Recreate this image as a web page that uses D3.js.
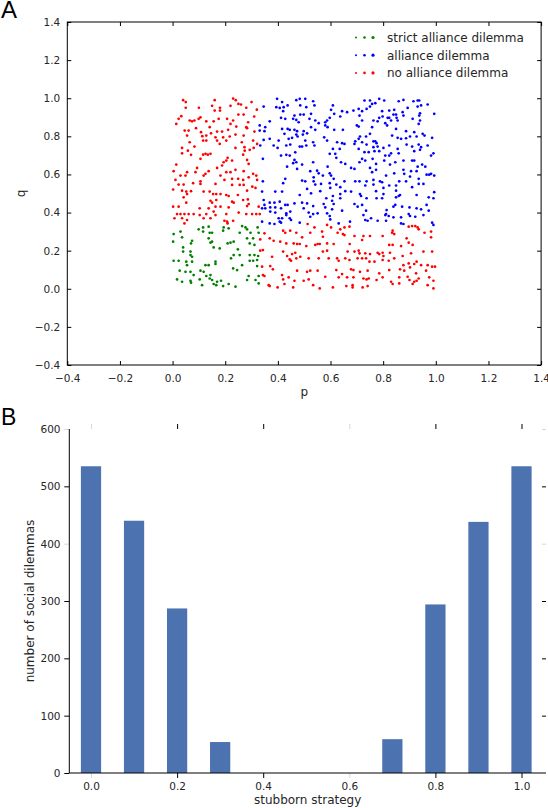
<!DOCTYPE html>
<html>
<head>
<meta charset="utf-8">
<script src="https://cdn.jsdelivr.net/npm/d3@7"></script>
<style>
  body { margin: 0; background: #fff; }
  svg text { font-family: "DejaVu Sans", sans-serif; }
</style>
</head>
<body>
<div id="chart"></div>
<script>
const strictAlliance = [
  [0.116,0.322],[0.099,0.312],[0.137,0.326],[0.194,0.322],[0.213,0.317],[0.264,0.329],[0.277,0.322],[0.283,0.312],[0.323,0.322],
  [0.03,0.3],[0.004,0.287],[0.116,0.3],[0.141,0.294],[0.15,0.294],[0.192,0.305],[0.255,0.294],[0.296,0.294],[0.327,0.294],
  [0.036,0.27],[0.074,0.252],[0.137,0.265],[0.15,0.247],[0.144,0.242],[0.22,0.242],[0.232,0.247],[0.209,0.238],[0.283,0.265],
  [0.306,0.265],[0.311,0.23],[0.293,0.238],[0.002,0.247],[0.07,0.238],[0.156,0.217],[0.179,0.212],[0.04,0.217],[0.04,0.195],
  [0.068,0.195],[0.248,0.207],[0.068,0.177],[0.074,0.168],[0.232,0.177],[0.255,0.177],[0.293,0.177],[0.311,0.177],
  [0.004,0.147],[0.023,0.147],[0.052,0.142],[0.074,0.142],[0.163,0.142],[0.222,0.16],[0.293,0.147],[0.306,0.147],[0.321,0.151],
  [0.055,0.124],[0.125,0.124],[0.137,0.124],[0.163,0.13],[0.23,0.107],[0.264,0.124],[0.321,0.119],
  [0.027,0.095],[0.049,0.089],[0.068,0.089],[0.106,0.095],[0.118,0.089],[0.245,0.098],
  [0.08,0.072],[0.128,0.067],[0.144,0.072],[0.289,0.067],[0.327,0.067],
  [0.017,0.049],[0.036,0.037],[0.068,0.042],[0.07,0.032],[0.103,0.049],[0.141,0.054],[0.15,0.046],[0.169,0.037],[0.184,0.042],
  [0.283,0.046],[0.315,0.046],[0.112,0.019],[0.156,0.025],[0.166,0.019],[0.192,0.014],[0.213,0.025],[0.239,0.011],[0.327,0.028],
  [0.325,0.172]
];

const alliance = [
  [0.397,0.997],[0.416,0.98],[0.47,0.99],[0.483,0.997],[0.504,0.997],[0.534,0.984],[0.539,0.962],[0.609,0.962],[0.346,0.956],
  [0.394,0.953],[0.407,0.949],[0.422,0.953],[0.437,0.962],[0.485,0.962],[0.508,0.953],[0.602,0.939],[0.644,0.932],[0.663,0.927],
  [0.42,0.932],[0.498,0.914],[0.526,0.918],[0.463,0.909],[0.485,0.914],[0.597,0.897],[0.587,0.883],[0.637,0.904],[0.614,0.918],
  [0.369,0.879],[0.412,0.897],[0.428,0.892],[0.458,0.892],[0.47,0.886],[0.479,0.874],[0.52,0.892],[0.542,0.883],[0.555,0.869],
  [0.58,0.874],[0.331,0.857],[0.352,0.848],[0.416,0.839],[0.437,0.839],[0.445,0.834],[0.463,0.834],[0.473,0.827],[0.498,0.827],
  [0.526,0.848],[0.58,0.857],[0.589,0.848],[0.614,0.834],[0.331,0.83],[0.349,0.827],[0.425,0.813],[0.47,0.809],[0.475,0.799],
  [0.495,0.809],[0.511,0.816],[0.542,0.834],[0.647,0.834],[0.346,0.781],[0.369,0.787],[0.403,0.778],[0.441,0.787],[0.454,0.792],
  [0.504,0.778],[0.534,0.769],[0.576,0.795],[0.587,0.778],[0.625,0.769],[0.644,0.764],[0.653,0.76],[0.333,0.752],[0.384,0.752],
  [0.399,0.739],[0.432,0.752],[0.447,0.757],[0.483,0.746],[0.492,0.746],[0.508,0.752],[0.539,0.752],[0.609,0.734],[0.412,0.699],
  [0.432,0.703],[0.445,0.699],[0.466,0.716],[0.597,0.708],[0.618,0.708],[0.635,0.734],[0.343,0.682],[0.622,0.687],[0.463,0.676],
  [0.458,0.659],[0.47,0.664],[0.435,0.641],[0.492,0.652],[0.534,0.664],[0.589,0.641],[0.656,0.655],[0.64,0.664],[0.473,0.629],
  [0.523,0.617],[0.549,0.62],[0.555,0.606],[0.597,0.606],[0.602,0.594],[0.571,0.594],[0.536,0.585],[0.504,0.564],[0.536,0.564],
  [0.343,0.564],[0.42,0.554],[0.428,0.577],[0.492,0.568],[0.612,0.577],[0.653,0.564],[0.542,0.547],[0.564,0.55],[0.597,0.554],
  [0.622,0.547],[0.637,0.533],[0.511,0.524],[0.561,0.512],[0.599,0.529],[0.656,0.512],
  [0.785,0.997],[0.729,0.988],[0.75,0.988],[0.804,0.988],[0.859,0.984],[0.877,0.991],[0.915,0.984],[0.931,0.988],[0.937,0.988],
  [0.77,0.974],[0.758,0.97],[0.969,0.967],[0.75,0.956],[0.931,0.956],[0.944,0.962],[0.687,0.935],[0.707,0.944],[0.72,0.932],
  [0.737,0.944],[0.796,0.932],[0.823,0.935],[0.842,0.939],[0.874,0.927],[0.893,0.949],[0.994,0.918],[0.877,0.909],[0.94,0.921],
  [0.937,0.909],[0.71,0.909],[0.785,0.897],[0.798,0.904],[0.817,0.897],[0.839,0.914],[0.849,0.914],[0.851,0.897],[0.808,0.869],
  [0.83,0.883],[0.855,0.883],[0.912,0.892],[0.94,0.883],[0.935,0.865],[0.72,0.883],[0.763,0.883],[0.779,0.879],[0.823,0.897],
  [0.7,0.857],[0.707,0.851],[0.758,0.848],[0.815,0.857],[0.849,0.839],[0.887,0.827],[0.902,0.799],[0.918,0.822],[0.95,0.813],
  [0.957,0.804],[0.986,0.792],[0.712,0.799],[0.707,0.787],[0.735,0.799],[0.75,0.813],[0.834,0.804],[0.855,0.792],[0.868,0.787],
  [0.887,0.79],[0.927,0.799],[0.694,0.774],[0.691,0.76],[0.72,0.769],[0.737,0.757],[0.763,0.774],[0.77,0.774],[0.775,0.764],
  [0.763,0.743],[0.779,0.746],[0.801,0.739],[0.823,0.752],[0.855,0.734],[0.889,0.757],[0.91,0.746],[0.935,0.757],[0.944,0.743],
  [0.969,0.752],[0.707,0.734],[0.729,0.717],[0.745,0.717],[0.767,0.722],[0.785,0.722],[0.83,0.711],[0.859,0.711],[0.918,0.722],
  [0.94,0.729],[0.982,0.699],[0.991,0.711],[0.808,0.699],[0.823,0.699],[0.72,0.682],[0.732,0.673],[0.71,0.664],[0.76,0.682],
  [0.804,0.673],[0.846,0.664],[0.877,0.673],[0.91,0.673],[0.918,0.673],[0.96,0.641],[0.948,0.652],[0.773,0.655],[0.826,0.652],
  [0.931,0.641],[0.678,0.634],[0.691,0.629],[0.75,0.634],[0.773,0.624],[0.758,0.612],[0.877,0.624],[0.906,0.617],[0.927,0.617],
  [0.965,0.599],[0.975,0.599],[0.982,0.603],[0.994,0.594],[0.811,0.594],[0.842,0.606],[0.88,0.603],[0.902,0.589],[0.694,0.564],
  [0.71,0.564],[0.737,0.564],[0.763,0.571],[0.788,0.564],[0.796,0.559],[0.861,0.564],[0.887,0.564],[0.935,0.577],[0.953,0.55],
  [0.732,0.542],[0.763,0.547],[0.823,0.542],[0.849,0.542],[0.91,0.533],[0.801,0.529],[0.935,0.55],[0.773,0.512],[0.849,0.515],
  [0.994,0.507],
  [0.34,0.51],[0.39,0.51],[0.416,0.51],[0.483,0.492],[0.526,0.501],[0.584,0.475],[0.609,0.487],[0.637,0.497],[0.637,0.475],
  [0.346,0.466],[0.369,0.452],[0.387,0.452],[0.407,0.457],[0.428,0.44],[0.437,0.44],[0.463,0.448],[0.492,0.452],[0.511,0.448],
  [0.534,0.434],[0.574,0.445],[0.606,0.462],[0.612,0.445],[0.349,0.44],[0.34,0.422],[0.352,0.422],[0.371,0.427],[0.39,0.427],
  [0.412,0.422],[0.498,0.422],[0.58,0.427],[0.606,0.417],[0.644,0.41],[0.371,0.405],[0.39,0.4],[0.432,0.396],[0.447,0.405],
  [0.517,0.4],[0.534,0.392],[0.551,0.396],[0.587,0.396],[0.403,0.37],[0.416,0.37],[0.407,0.352],[0.432,0.387],[0.445,0.37],
  [0.45,0.361],[0.523,0.378],[0.597,0.382],[0.599,0.364],[0.34,0.352],[0.369,0.343],[0.387,0.34],[0.412,0.347],[0.483,0.347],
  [0.631,0.343],
  [0.678,0.51],[0.712,0.497],[0.716,0.487],[0.737,0.475],[0.775,0.475],[0.796,0.475],[0.801,0.497],[0.849,0.48],[0.859,0.487],
  [0.864,0.492],[0.927,0.492],[0.973,0.48],[0.991,0.475],[0.691,0.445],[0.703,0.431],[0.72,0.44],[0.735,0.41],[0.725,0.387],
  [0.754,0.37],[0.741,0.357],[0.732,0.361],[0.779,0.357],[0.811,0.357],[0.839,0.431],[0.846,0.44],[0.872,0.431],[0.9,0.427],
  [0.927,0.422],[0.944,0.417],[0.965,0.44],[0.973,0.41],[0.813,0.413],[0.811,0.392],[0.821,0.382],[0.808,0.387],[0.839,0.375],
  [0.868,0.375],[0.902,0.382],[0.897,0.392],[0.922,0.378],[0.953,0.387],[0.674,0.352],[0.868,0.343],[0.877,0.34],[0.986,0.347],
  [0.991,0.335]
];

const noAlliance = [
  [0.04,0.99],[0.05,0.98],[0.16,0.99],[0.23,0.998],[0.24,0.99],[0.25,0.97],[0.26,0.967],[0.30,0.98],[0.05,0.95],[0.10,0.95],
  [0.15,0.96],[0.18,0.95],[0.22,0.96],[0.28,0.95],[0.32,0.94],[0.16,0.935],[0.18,0.935],[0.25,0.914],[0.27,0.914],[0.31,0.904],
  [0.033,0.906],[0.023,0.892],[0.014,0.865],[0.065,0.883],[0.074,0.879],[0.083,0.883],[0.099,0.892],[0.106,0.9],[0.128,0.879],
  [0.175,0.892],[0.156,0.879],[0.207,0.892],[0.22,0.865],[0.23,0.883],[0.287,0.874],[0.28,0.848],[0.242,0.851],[0.283,0.843],
  [0.046,0.83],[0.061,0.83],[0.089,0.843],[0.108,0.822],[0.141,0.848],[0.146,0.816],[0.169,0.825],[0.188,0.825],[0.211,0.834],
  [0.239,0.809],[0.27,0.804],[0.311,0.825],[0.113,0.801],[0.128,0.804],[0.055,0.804],[0.163,0.795],[0.192,0.795],[0.217,0.799],
  [0.065,0.769],[0.116,0.778],[0.128,0.778],[0.169,0.778],[0.204,0.778],[0.263,0.769],[0.306,0.778],[0.083,0.746],[0.036,0.739],
  [0.179,0.76],[0.273,0.743],[0.321,0.76],[0.239,0.739],[0.308,0.739],[0.293,0.729],[0.274,0.725],[0.036,0.711],[0.058,0.725],
  [0.07,0.703],[0.125,0.708],[0.134,0.704],[0.144,0.708],[0.116,0.704],[0.209,0.687],[0.268,0.704],[0.283,0.676],[0.106,0.682],
  [0.194,0.664],[0.188,0.647],[0.204,0.673],[0.226,0.673],[0.014,0.652],[0.093,0.634],[0.169,0.634],[0.239,0.624],[0.289,0.655],
  [0.004,0.617],[0.055,0.612],[0.087,0.612],[0.125,0.603],[0.137,0.617],[0.204,0.612],[0.22,0.612],[0.27,0.617],[0.306,0.603],
  [0.318,0.594],[0.03,0.594],[0.049,0.594],[0.118,0.594],[0.182,0.594],[0.226,0.577],[0.289,0.585],[0.011,0.571],[0.078,0.554],
  [0.106,0.564],[0.197,0.571],[0.249,0.577],[0.268,0.571],[0.321,0.571],[0.023,0.547],[0.042,0.547],[0.106,0.55],[0.163,0.55],
  [0.226,0.545],[0.255,0.545],[0.27,0.545],[0.303,0.536],[0.002,0.521],[0.036,0.515],[0.07,0.512],[0.118,0.51],[0.315,0.529],
  [0.052,0.51],[0.055,0.497],[0.141,0.51],[0.154,0.497],[0.166,0.497],[0.182,0.497],[0.204,0.492],[0.213,0.487],[0.248,0.492],
  [0.283,0.515],[0.042,0.48],[0.052,0.452],[0.144,0.462],[0.15,0.452],[0.166,0.466],[0.232,0.452],[0.226,0.457],[0.268,0.466],
  [0.286,0.469],[0.289,0.445],[0.002,0.431],[0.023,0.431],[0.103,0.422],[0.137,0.422],[0.163,0.431],[0.182,0.431],[0.213,0.427],
  [0.283,0.434],[0.327,0.431],[0.017,0.392],[0.03,0.392],[0.045,0.392],[0.061,0.392],[0.08,0.392],[0.103,0.387],[0.128,0.392],
  [0.156,0.405],[0.163,0.387],[0.204,0.392],[0.251,0.4],[0.28,0.392],[0.302,0.392],[0.318,0.392],[0.331,0.392],[0.007,0.37],
  [0.036,0.37],[0.055,0.361],[0.045,0.343],[0.118,0.37],[0.144,0.37],[0.197,0.357],[0.207,0.352],[0.209,0.343],[0.23,0.357],
  [0.513,0.34],[0.539,0.322],[0.587,0.335],[0.602,0.322],[0.637,0.312],[0.647,0.287],[0.653,0.322],[0.349,0.291],[0.42,0.305],
  [0.428,0.294],[0.447,0.305],[0.47,0.294],[0.492,0.27],[0.523,0.294],[0.568,0.3],[0.571,0.273],[0.627,0.294],[0.653,0.282],
  [0.333,0.259],[0.369,0.265],[0.384,0.252],[0.409,0.247],[0.432,0.238],[0.46,0.238],[0.473,0.235],[0.483,0.235],[0.508,0.224],
  [0.542,0.23],[0.551,0.235],[0.559,0.235],[0.587,0.238],[0.612,0.235],[0.673,0.235],[0.333,0.2],[0.343,0.203],[0.42,0.195],
  [0.454,0.182],[0.466,0.189],[0.571,0.195],[0.587,0.2],[0.665,0.195],[0.378,0.168],[0.435,0.172],[0.445,0.154],[0.45,0.147],
  [0.47,0.16],[0.485,0.168],[0.517,0.16],[0.555,0.16],[0.593,0.16],[0.625,0.16],[0.631,0.147],[0.656,0.16],[0.34,0.116],
  [0.371,0.119],[0.381,0.102],[0.473,0.095],[0.511,0.089],[0.523,0.095],[0.551,0.095],[0.622,0.098],[0.343,0.072],[0.349,0.067],
  [0.416,0.072],[0.42,0.049],[0.441,0.06],[0.463,0.042],[0.498,0.042],[0.517,0.049],[0.58,0.063],[0.631,0.06],[0.644,0.077],
  [0.663,0.06],[0.365,0.019],[0.369,0.014],[0.399,0.007],[0.425,0.025],[0.458,0.007],[0.534,0.019],[0.559,0.002],[0.609,0.007],
  [0.66,0.014],
  [0.672,0.326],[0.725,0.277],[0.75,0.277],[0.798,0.277],[0.834,0.294],[0.842,0.287],[0.836,0.305],[0.897,0.326],[0.91,0.329],
  [0.922,0.329],[0.931,0.322],[0.935,0.312],[0.957,0.294],[0.982,0.3],[0.889,0.265],[0.897,0.242],[0.912,0.23],[0.982,0.27],
  [0.691,0.277],[0.72,0.256],[0.823,0.23],[0.836,0.23],[0.868,0.224],[0.953,0.195],[0.986,0.195],[0.691,0.195],[0.707,0.2],
  [0.71,0.186],[0.732,0.186],[0.75,0.182],[0.779,0.189],[0.785,0.182],[0.798,0.189],[0.801,0.172],[0.826,0.189],[0.842,0.16],
  [0.874,0.172],[0.906,0.186],[0.672,0.151],[0.703,0.16],[0.72,0.16],[0.735,0.16],[0.748,0.142],[0.767,0.142],[0.798,0.151],
  [0.821,0.147],[0.877,0.124],[0.897,0.133],[0.918,0.13],[0.927,0.142],[0.944,0.124],[0.969,0.124],[0.986,0.116],[0.678,0.102],
  [0.687,0.098],[0.712,0.089],[0.741,0.095],[0.785,0.081],[0.823,0.098],[0.864,0.102],[0.88,0.095],[0.902,0.112],[0.925,0.081],
  [0.963,0.095],[0.997,0.116],[0.687,0.06],[0.725,0.054],[0.737,0.049],[0.745,0.054],[0.775,0.046],[0.798,0.06],[0.83,0.037],
  [0.861,0.06],[0.893,0.063],[0.9,0.046],[0.918,0.037],[0.927,0.042],[0.935,0.054],[0.975,0.06],[0.991,0.042],[0.684,0.019],
  [0.684,0.007],[0.722,0.007],[0.741,0.014],[0.836,0.025],[0.861,0.028],[0.912,0.025],[0.969,0.019],[0.991,0.002]
];

const dilemmaNames = ["strict alliance dilemma", "alliance dilemma", "no alliance dilemma"];
const axisTicksA = [-0.4, -0.2, 0.0, 0.2, 0.4, 0.6, 0.8, 1.0, 1.2, 1.4];

// panel B
const stubbornStrategy = [0.0, 0.1, 0.2, 0.3, 0.4, 0.5, 0.6, 0.7, 0.8, 0.9, 1.0];
const socialDilemmas = [535, 440, 287, 54, 0, 0, 0, 59, 294, 438, 535];
const strategyTicks = [0.0, 0.2, 0.4, 0.6, 0.8, 1.0];
const countTicks = [0, 100, 200, 300, 400, 500, 600];

const width = 548;
const height = 808;
const textColor = "#262626";
const tickFont = 10.5;
const labelFont = 12;
const faint = "#d8d8d8";
const fmt = d3.format(".1f");

const svg = d3.select("#chart")
  .append("svg")
  .attr("width", width)
  .attr("height", height);

// ---------- panel A ----------
const xA = d3.scaleLinear().domain([-0.4, 1.4]).range([67.3, 541.1]);
const yA = d3.scaleLinear().domain([-0.4, 1.4]).range([365, 22]);
const colors = ["#008000", "#0000ff", "#ff0000"];
const groups = [strictAlliance, alliance, noAlliance];

const gA = svg.append("g");

groups.forEach((pts, i) => {
  gA.append("g")
    .selectAll("circle")
    .data(pts)
    .enter()
    .append("circle")
    .attr("cx", d => xA(d[0]))
    .attr("cy", d => yA(d[1]))
    .attr("r", 1.35)
    .attr("fill", colors[i]);
});

function styleAxis(g) {
  g.attr("font-family", null).attr("font-size", tickFont).attr("color", "#000");
  g.select(".domain").remove();
  g.selectAll("text").attr("fill", textColor);
}

gA.append("g")
  .attr("transform", `translate(0,${yA(-0.4)})`)
  .call(d3.axisBottom(xA).tickValues(axisTicksA).tickSize(-4).tickPadding(9.2).tickFormat(fmt))
  .call(styleAxis);
gA.append("g")
  .attr("transform", `translate(0,${yA(1.4)})`)
  .call(d3.axisTop(xA).tickValues(axisTicksA).tickSize(-4).tickFormat(""))
  .call(styleAxis);
gA.append("g")
  .attr("transform", `translate(${xA(-0.4)},0)`)
  .call(d3.axisLeft(yA).tickValues(axisTicksA).tickSize(-4).tickPadding(7).tickFormat(fmt))
  .call(styleAxis);
gA.append("g")
  .attr("transform", `translate(${xA(1.4)},0)`)
  .call(d3.axisRight(yA).tickValues(axisTicksA).tickSize(-4).tickFormat(""))
  .call(styleAxis);

gA.append("rect")
  .attr("x", xA(-0.4))
  .attr("y", yA(1.4))
  .attr("width", xA(1.4) - xA(-0.4))
  .attr("height", yA(-0.4) - yA(1.4))
  .attr("fill", "none")
  .attr("stroke", "#000")
  .attr("stroke-width", 1);

gA.append("text")
  .attr("x", (xA(-0.4) + xA(1.4)) / 2)
  .attr("y", 396)
  .attr("text-anchor", "middle")
  .attr("font-size", labelFont)
  .attr("fill", textColor)
  .text("p");

gA.append("text")
  .attr("transform", `translate(25,${(yA(-0.4) + yA(1.4)) / 2}) rotate(-90)`)
  .attr("text-anchor", "middle")
  .attr("font-size", labelFont)
  .attr("fill", textColor)
  .text("q");

// legend
const legend = gA.append("g").attr("transform", "translate(356,37.5)");
const legendRadii = [1.0, 1.3, 1.6];
dilemmaNames.forEach((name, i) => {
  const row = legend.append("g").attr("transform", `translate(0,${i * 17.7})`);
  legendRadii.forEach((r, j) => {
    row.append("circle").attr("cx", j * 8.5).attr("cy", 0).attr("r", r).attr("fill", colors[i]);
  });
  row.append("text")
    .attr("x", 31)
    .attr("y", 4.3)
    .attr("font-size", labelFont)
    .attr("fill", textColor)
    .text(name);
});

svg.append("text")
  .attr("x", 1)
  .attr("y", 18)
  .style("font-family", "'Liberation Sans', Arial, sans-serif")
  .attr("font-size", 24)
  .attr("fill", "#000")
  .text("A");

// ---------- panel B ----------
const xB = d3.scaleLinear().domain([-0.0504, 1.0569]).range([69.3, 546]);
const yB = d3.scaleLinear().domain([0, 600]).range([773, 429]);
const barWidth = 0.047;

const gB = svg.append("g");

gB.selectAll("rect.bar")
  .data(stubbornStrategy.map((s, i) => [s, socialDilemmas[i]]))
  .enter()
  .append("rect")
  .attr("class", "bar")
  .attr("x", d => xB(d[0] - barWidth / 2))
  .attr("y", d => yB(d[1]))
  .attr("width", xB(barWidth) - xB(0))
  .attr("height", d => yB(0) - yB(d[1]))
  .attr("fill", "#4c72b0");

const isFaintX = d => d === 0 || Math.abs(d - 0.6) < 1e-9;
const isFaintY = d => d === 600 || d === 400;

const bottomAxis = gB.append("g")
  .attr("transform", `translate(0,${yB(0)})`)
  .call(d3.axisBottom(xB).tickValues(strategyTicks).tickSize(5).tickPadding(5).tickFormat(fmt))
  .call(styleAxis);
bottomAxis.selectAll(".tick line").attr("stroke", d => isFaintX(d) ? faint : "#000");

const leftAxis = gB.append("g")
  .attr("transform", `translate(${xB.range()[0]},0)`)
  .call(d3.axisLeft(yB).tickValues(countTicks).tickSize(5).tickPadding(3.8).tickFormat(d3.format("d")))
  .call(styleAxis);
leftAxis.selectAll(".tick line").attr("stroke", d => isFaintY(d) ? faint : "#000");

// top / right ticks without spines, as in the figure
const topTicks = gB.append("g")
  .attr("transform", `translate(0,${yB(600)})`)
  .call(d3.axisTop(xB).tickValues(strategyTicks).tickSize(5).tickFormat(""))
  .call(styleAxis);
topTicks.selectAll(".tick line").attr("stroke", d => isFaintX(d) ? faint : "#000");

const rightTicks = gB.append("g")
  .attr("transform", `translate(${xB.range()[1]},0)`)
  .call(d3.axisRight(yB).tickValues(countTicks.slice(1)).tickSize(-4).tickFormat(""))
  .call(styleAxis);
rightTicks.selectAll(".tick line").attr("stroke", d => isFaintY(d) ? faint : "#000");

gB.append("line")
  .attr("x1", xB.range()[0]).attr("x2", xB.range()[0])
  .attr("y1", yB(600)).attr("y2", yB(0))
  .attr("stroke", "#000");
gB.append("line")
  .attr("x1", xB.range()[0]).attr("x2", xB.range()[1])
  .attr("y1", yB(0)).attr("y2", yB(0))
  .attr("stroke", "#000");

gB.append("text")
  .attr("x", (xB.range()[0] + xB.range()[1]) / 2)
  .attr("y", 804)
  .attr("text-anchor", "middle")
  .attr("font-size", labelFont)
  .attr("fill", textColor)
  .text("stubborn strategy");

gB.append("text")
  .attr("transform", `translate(34,${(yB(0) + yB(600)) / 2}) rotate(-90)`)
  .attr("text-anchor", "middle")
  .attr("font-size", labelFont)
  .attr("fill", textColor)
  .text("number of social dilemmas");

svg.append("text")
  .attr("x", 1)
  .attr("y", 425)
  .style("font-family", "'Liberation Sans', Arial, sans-serif")
  .attr("font-size", 23)
  .attr("fill", "#000")
  .text("B");
</script>
</body>
</html>
